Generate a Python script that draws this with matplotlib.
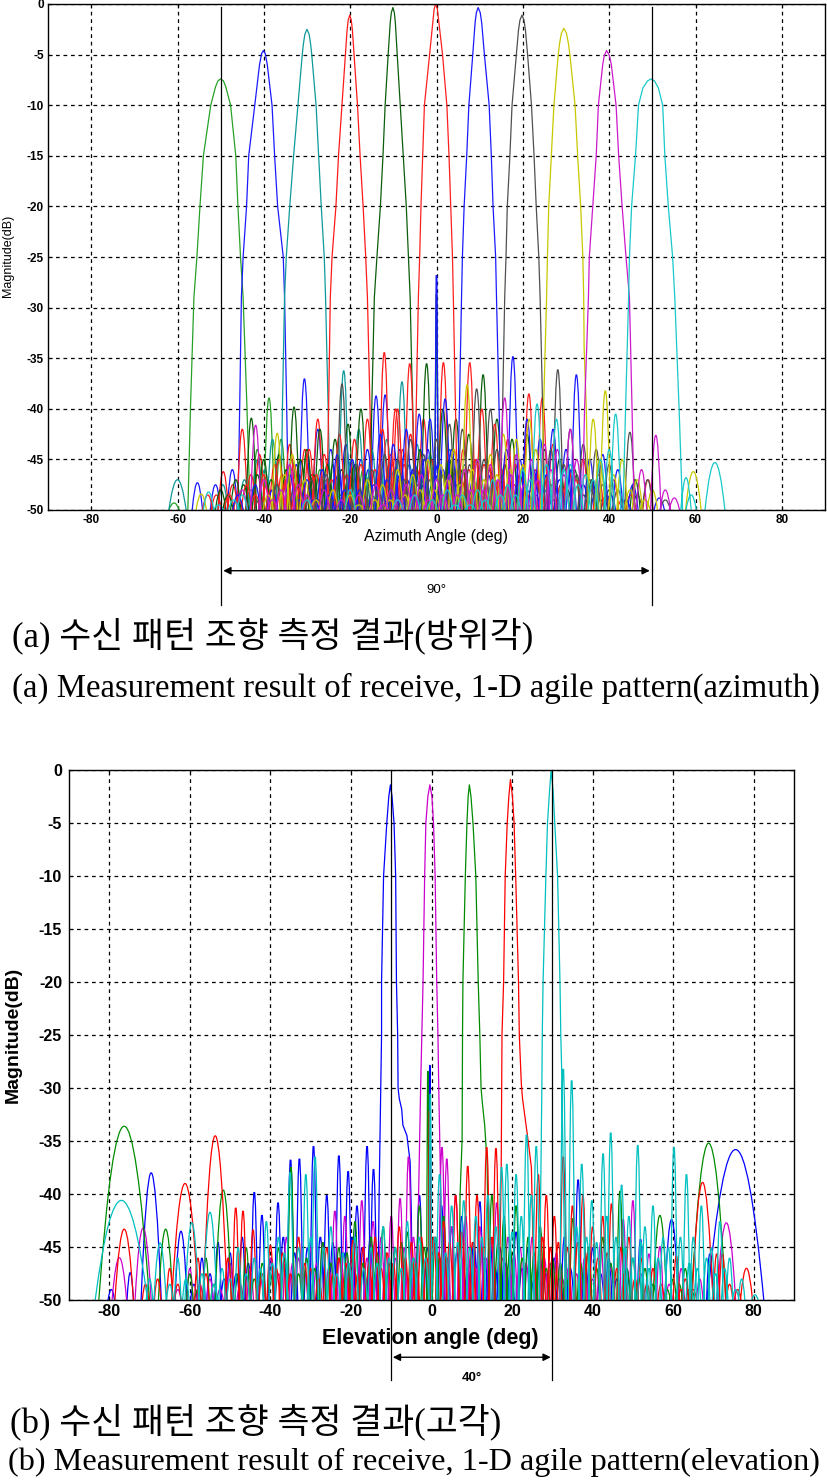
import matplotlib
matplotlib.use("Agg")
import matplotlib.pyplot as plt
from matplotlib.path import Path
from matplotlib.patches import PathPatch

plt.rcParams['font.family'] = ['Liberation Sans', 'DejaVu Sans']

FLOOR = -50.0

# ---------------- (a) azimuth: main lobes (angle, dB) ----------------
AZ_A_MAIN = [(-57.6, -50), (-57.0, -40), (-56.2, -29), (-55.5, -25), (-54.8, -20), (-54.0, -15), (-52.3, -10),
             (-51.2, -8.2), (-50.64, -7.6), (-50.0, -7.4), (-49.36, -7.6), (-48.8, -8.2), (-47.7, -10),
             (-46.5, -15), (-46.0, -20), (-45.4, -25), (-44.8, -29), (-43.9, -40), (-43.2, -50)]
AZ_B_MAIN = [(-46.0, -50), (-45.6, -40), (-45.2, -29), (-44.8, -25), (-44.0, -20), (-43.5, -15), (-42.1, -10),
             (-41.0, -6), (-40.52, -4.9), (-40.1, -4.6), (-39.68, -4.9), (-39.2, -6), (-38.1, -10), (-37.5, -15),
             (-36.8, -20), (-35.5, -25), (-35.2, -29), (-34.7, -40), (-34.3, -50)]
AZ_C_MAIN = [(-36.0, -50), (-35.7, -40), (-35.2, -29), (-34.8, -25), (-34.0, -20), (-33.1, -15), (-32.1, -10),
             (-31.1, -5), (-30.85, -4.0), (-30.5, -3.0), (-30.0, -2.5), (-29.5, -3.0), (-29.15, -4.0),
             (-28.9, -5), (-27.9, -10), (-27.3, -15), (-26.7, -20), (-26.0, -25), (-25.7, -29), (-25.1, -40),
             (-24.6, -50)]
AZ_D_MAIN = [(-25.4, -50), (-25.0, -40), (-24.6, -29), (-24.2, -25), (-23.3, -20), (-22.7, -15), (-21.9, -10),
             (-21.1, -5), (-20.72, -2.6), (-20.46, -1.6), (-20.1, -1.1), (-19.74, -1.6), (-19.48, -2.6),
             (-19.1, -5), (-18.3, -10), (-17.7, -15), (-17.0, -20), (-16.4, -25), (-16.0, -29), (-15.4, -40),
             (-14.9, -50)]
AZ_E_MAIN = [(-15.4, -50), (-15.0, -40), (-14.4, -29), (-13.8, -25), (-13.0, -20), (-12.4, -15), (-11.9, -10),
             (-11.2, -5), (-10.72, -1.85), (-10.46, -0.85), (-10.1, -0.35), (-9.77, -0.85), (-9.53, -1.85),
             (-9.1, -5), (-8.4, -10), (-7.7, -15), (-7.0, -20), (-6.5, -25), (-6.1, -29), (-5.8, -35),
             (-5.5, -40), (-5.0, -50)]
AZ_F_MAIN = [(-5.2, -50), (-4.7, -40), (-4.2, -29), (-3.9, -25), (-3.6, -20), (-3.2, -15), (-2.8, -10),
             (-1.6, -5), (-0.9, -2), (-0.55, -0.5), (-0.2, 0), (0.2, -0.5), (0.6, -2), (1.4, -5), (2.4, -10),
             (2.9, -15), (3.3, -20), (3.7, -25), (3.9, -29), (4.4, -40), (4.9, -50)]
AZ_G_MAIN = [(4.8, -50), (5.3, -40), (5.8, -29), (6.0, -25), (6.4, -20), (7.0, -15), (7.5, -10), (8.4, -5),
             (8.94, -1.85), (9.24, -0.85), (9.65, -0.35), (10.13, -0.85), (10.47, -1.85), (11.1, -5),
             (12.2, -10), (12.7, -15), (13.1, -20), (13.7, -25), (13.9, -29), (14.5, -40), (15.0, -50)]
AZ_H_MAIN = [(14.8, -50), (15.3, -40), (15.8, -29), (16.1, -25), (16.4, -20), (17.0, -15), (17.5, -10),
             (18.5, -5), (18.99, -2.6), (19.33, -1.6), (19.8, -1.1), (20.27, -1.6), (20.61, -2.6), (21.1, -5),
             (22.0, -10), (22.6, -15), (23.1, -20), (23.7, -25), (24.0, -29), (24.6, -40), (25.1, -50)]
AZ_I_MAIN = [(24.3, -50), (24.8, -40), (25.5, -29), (25.7, -25), (26.0, -20), (26.6, -15), (27.2, -10),
             (28.2, -5), (28.51, -3.9), (28.93, -2.9), (29.5, -2.4), (30.11, -2.9), (30.56, -3.9), (30.9, -5),
             (32.1, -10), (32.7, -15), (33.4, -20), (33.9, -25), (34.1, -29), (34.2, -34), (34.7, -40),
             (35.2, -50)]
AZ_J_MAIN = [(33.8, -50), (34.3, -40), (35.2, -29), (35.4, -25), (36.2, -20), (37.0, -15), (37.5, -10),
             (38.5, -6), (38.86, -5.1), (39.4, -4.6), (40.06, -5.1), (40.5, -6), (41.6, -10), (42.2, -15),
             (43.0, -20), (43.9, -25), (44.7, -29), (45.3, -40), (45.8, -50)]
AZ_K_MAIN = [(43.2, -50), (43.8, -40), (44.5, -29), (44.7, -25), (45.2, -20), (46.1, -15), (46.8, -10),
             (47.8, -8.3), (48.9, -7.6), (49.7, -7.4), (50.5, -7.6), (51.4, -8.3), (52.4, -10), (52.9, -15),
             (53.7, -20), (54.7, -25), (55.2, -29), (56.2, -40), (57.0, -50)]

# ---------------- (a) azimuth: side lobe peaks (angle, dB) ----------------
AZ_A_SIDE = [(-41.5, -44.0), (-38.8, -38.9), (-36.0, -43.0), (-33.5, -45.0), (-30.0, -44.5), (-27.0, -46.0),
             (-24.0, -45.5), (-20.5, -47.0), (-17.0, -46.0), (-13.0, -47.5), (-9.0, -47.0), (-5.0, -48.0),
             (-1.0, -47.5), (3.0, -48.5), (7.0, -48.0), (12.0, -49.0), (17.0, -48.5), (-60.8, -49.3),
             (-34.8, -47.5), (-31.8, -46.5), (-28.5, -48.0), (-25.5, -47.0), (-22.3, -48.5), (-18.8, -47.5),
             (-15.0, -48.5), (-11.0, -47.5), (-7.0, -49.0), (-3.0, -48.5), (1.0, -49.0), (5.0, -48.5),
             (9.5, -49.5), (14.5, -49.0)]
AZ_B_SIDE = [(-47.3, -46.0), (-51.2, -47.5), (-55.4, -47.3), (-30.6, -37.0), (-27.5, -42.0), (-24.5, -44.0),
             (-21.0, -43.5), (-17.5, -45.0), (-14.0, -38.7), (-11.9, -38.6), (-8.5, -44.0), (-5.0, -45.5),
             (-2.0, -44.0), (1.5, -46.0), (5.0, -45.0), (8.5, -47.0), (12.0, -46.5), (15.5, -47.5),
             (19.0, -48.0), (23.0, -48.5), (27.0, -49.0), (-32.5, -45.5), (-29.0, -46.5), (-26.0, -47.5),
             (-22.8, -46.5), (-19.3, -47.0), (-15.8, -46.0), (-10.2, -45.5), (-6.8, -47.0), (-3.5, -47.5),
             (-0.3, -46.5), (3.3, -47.5), (6.8, -48.0), (10.2, -48.5), (13.8, -49.0), (17.2, -49.0),
             (21.0, -49.5)]
AZ_C_SIDE = [(-38.0, -43.0), (-41.5, -45.0), (-44.5, -47.0), (-49.5, -47.5), (-21.5, -36.2), (-18.0, -42.0),
             (-15.0, -44.0), (-11.5, -43.0), (-8.0, -37.3), (-4.5, -43.5), (-1.5, -44.5), (3.0, -44.0),
             (6.5, -45.5), (10.0, -46.0), (13.5, -47.0), (17.0, -46.5), (21.0, -48.0), (25.0, -48.0),
             (-39.8, -46.0), (-36.9, -47.5), (-43.0, -48.0), (-19.8, -45.0), (-16.5, -46.5), (-13.2, -45.5),
             (-9.8, -46.0), (-6.3, -45.5), (-3.0, -47.0), (1.2, -46.5), (4.8, -47.5), (8.3, -48.0),
             (11.8, -48.5), (15.3, -48.5), (19.0, -49.0)]
AZ_D_SIDE = [(-27.5, -41.0), (-30.5, -44.0), (-34.0, -43.5), (-37.5, -45.5), (-41.0, -44.5), (-45.0, -42.0),
             (-49.4, -46.2), (-53.0, -48.5), (-12.1, -34.4), (-9.0, -40.0), (-6.0, -42.5), (-3.0, -41.0),
             (1.6, -35.4), (4.0, -44.0), (7.5, -46.0), (11.0, -45.5), (14.5, -47.0), (18.0, -47.5),
             (22.0, -48.0), (26.0, -49.0), (-29.0, -46.5), (-32.3, -47.0), (-35.8, -46.5), (-39.3, -47.5),
             (-43.0, -46.5), (-47.2, -47.5), (-51.0, -48.5), (-10.6, -44.5), (-7.5, -45.5), (-4.5, -46.0),
             (-1.2, -45.0), (2.8, -46.5), (5.8, -47.0), (9.3, -48.0), (12.8, -47.5), (16.3, -48.5),
             (20.0, -49.0), (24.0, -49.5)]
AZ_E_SIDE = [(-17.5, -40.0), (-20.5, -41.5), (-23.5, -43.0), (-27.0, -42.0), (-30.0, -44.0), (-33.0, -39.8),
             (-36.5, -44.5), (-40.0, -45.0), (-42.9, -40.9), (-46.5, -47.0), (-50.0, -48.0), (-2.3, -35.5),
             (1.5, -40.0), (4.5, -41.0), (7.5, -42.5), (10.8, -36.6), (14.0, -41.0), (17.5, -43.0),
             (21.0, -42.5), (25.0, -44.0), (28.5, -45.0), (32.0, -46.0), (36.0, -47.0), (40.0, -48.0),
             (46.0, -47.0), (-19.0, -45.5), (-22.0, -46.0), (-25.3, -45.5), (-28.5, -46.5), (-31.5, -45.0),
             (-34.8, -46.0), (-38.3, -47.0), (-41.5, -46.5), (-44.7, -47.5), (-48.3, -48.5), (-3.8, -44.0),
             (3.0, -45.0), (6.0, -46.0), (9.2, -45.0), (12.4, -46.0), (15.8, -45.5), (19.3, -46.5),
             (23.0, -47.0), (26.8, -47.5), (30.3, -48.0), (34.0, -48.5), (38.0, -49.0)]
AZ_F_SIDE = [(-6.2, -35.5), (-9.5, -40.0), (-12.5, -42.0), (-16.0, -41.0), (-19.0, -43.0), (-22.5, -42.5),
             (-26.0, -44.5), (-29.5, -44.0), (-33.0, -45.5), (-36.5, -45.0), (-40.0, -46.5), (-44.0, -47.5),
             (-48.0, -48.5), (7.7, -35.4), (10.5, -40.0), (13.5, -41.5), (16.5, -43.0), (21.4, -38.5),
             (24.5, -38.9), (27.0, -43.5), (30.5, -45.5), (34.0, -45.0), (37.5, -46.5), (41.0, -47.0),
             (45.0, -48.5), (49.0, -47.0), (-7.8, -44.0), (-11.0, -45.5), (-14.3, -46.0), (-17.5, -45.5),
             (-20.8, -46.5), (-24.3, -47.0), (-27.8, -46.5), (-31.3, -47.5), (-34.8, -47.0), (-38.3, -48.0),
             (-42.0, -48.5), (-46.0, -49.0), (6.2, -44.0), (9.0, -45.0), (12.0, -45.5), (15.0, -46.0),
             (18.3, -45.5), (19.8, -47.0), (23.0, -46.0), (25.8, -46.5), (28.8, -47.5), (32.3, -47.0),
             (35.8, -48.0), (39.3, -48.5), (43.0, -49.0)]
AZ_G_SIDE = [(17.7, -34.8), (21.0, -41.0), (24.0, -43.0), (27.0, -42.0), (30.0, -44.0), (32.4, -36.6),
             (35.5, -45.0), (38.5, -44.5), (42.0, -46.0), (45.5, -47.5), (51.6, -48.8), (2.0, -39.0),
             (-1.5, -41.0), (-4.0, -40.5), (-7.0, -42.0), (-10.0, -43.5), (-13.0, -42.5), (-16.0, -44.0),
             (-19.5, -45.0), (-23.0, -44.5), (-26.5, -46.0), (-30.0, -47.0), (-34.0, -46.5), (-38.0, -48.0),
             (-42.0, -47.5), (-46.0, -48.5), (16.2, -44.0), (19.3, -45.0), (22.5, -46.0), (25.5, -46.5),
             (28.5, -47.0), (31.2, -46.0), (34.0, -47.5), (37.0, -48.0), (40.3, -48.5), (43.8, -49.0),
             (3.5, -44.0), (0.3, -45.5), (-2.8, -45.0), (-5.5, -46.0), (-8.5, -46.5), (-11.5, -47.0),
             (-14.5, -47.5), (-17.8, -48.0), (-21.3, -48.0), (-24.8, -48.5), (-28.3, -49.0), (-32.0, -49.0)]
AZ_H_SIDE = [(28.1, -36.1), (31.0, -42.0), (34.0, -43.5), (37.0, -44.0), (40.0, -45.5), (44.8, -42.3),
             (48.9, -47.0), (53.0, -49.0), (12.5, -40.0), (9.3, -38.0), (6.0, -42.0), (3.0, -41.5), (0.0, -43.0),
             (-3.0, -44.5), (-6.0, -43.0), (-9.0, -45.0), (-12.0, -44.5), (-15.0, -46.0), (-18.5, -45.5),
             (-21.9, -37.5), (-25.5, -46.5), (-29.0, -47.0), (-33.0, -48.0), (-37.0, -47.5), (-41.0, -49.0),
             (26.5, -44.0), (29.5, -45.5), (32.5, -46.5), (35.5, -47.0), (38.5, -47.5), (42.0, -48.0),
             (46.5, -48.5), (14.0, -44.0), (11.0, -45.0), (7.7, -45.5), (4.5, -46.0), (1.5, -46.5),
             (-1.5, -47.0), (-4.5, -47.5), (-7.5, -47.0), (-10.5, -48.0), (-13.5, -48.0), (-16.8, -48.5),
             (-20.2, -48.5), (-23.7, -49.0), (-27.3, -49.0)]
AZ_I_SIDE = [(36.3, -41.0), (39.1, -38.2), (43.0, -45.0), (46.5, -47.0), (50.0, -48.0), (21.5, -41.0),
             (18.5, -43.0), (15.5, -42.5), (12.5, -44.5), (9.5, -45.0), (7.1, -37.6), (4.0, -44.0), (1.0, -45.5),
             (-2.0, -45.0), (-5.5, -46.5), (-9.0, -46.0), (-12.5, -47.5), (-16.0, -47.0), (-20.0, -48.5),
             (-24.0, -48.0), (-28.0, -49.0), (-33.4, -44.5), (-36.9, -42.4), (-54.5, -48.4), (37.8, -45.0),
             (41.0, -46.5), (44.8, -48.0), (48.3, -49.0), (23.0, -44.0), (20.0, -45.5), (17.0, -46.0),
             (14.0, -46.5), (11.0, -47.0), (8.3, -46.0), (5.5, -47.5), (2.5, -47.0), (-0.5, -48.0),
             (-3.8, -48.0), (-7.3, -48.5), (-10.8, -49.0), (-14.3, -49.0), (-18.0, -49.5), (-30.5, -47.0),
             (-35.2, -46.5), (-39.0, -48.5)]
AZ_J_SIDE = [(50.8, -42.6), (55.1, -48.8), (31.0, -42.0), (28.0, -44.0), (25.0, -43.5), (22.0, -45.0),
             (18.5, -44.5), (15.8, -38.9), (12.5, -45.5), (9.5, -45.0), (6.5, -46.0), (3.0, -46.5), (0.0, -47.0),
             (-3.5, -46.5), (-7.0, -47.5), (-10.5, -48.0), (-14.0, -47.5), (-18.0, -48.5), (-22.0, -49.0),
             (-26.0, -48.0), (-30.0, -48.5), (-34.0, -45.5), (-38.0, -49.0), (-41.9, -41.6), (-45.0, -48.0),
             (47.5, -46.0), (53.0, -48.0), (32.5, -45.0), (29.5, -46.5), (26.5, -46.0), (23.5, -47.0),
             (20.3, -47.5), (17.2, -46.5), (14.2, -47.0), (11.0, -48.0), (8.0, -48.0), (4.8, -48.5),
             (1.5, -48.5), (-1.8, -49.0), (-5.3, -48.5), (-8.8, -49.0), (-12.3, -49.5), (-32.0, -47.5),
             (-36.0, -48.0), (-40.0, -47.0)]
AZ_K_SIDE = [(41.5, -40.5), (38.0, -45.0), (34.5, -46.5), (31.0, -45.5), (27.8, -41.0), (23.3, -39.5),
             (20.0, -46.0), (16.5, -47.5), (13.0, -47.0), (9.5, -48.0), (6.0, -48.5), (2.5, -48.0), (-1.0, -49.0),
             (-5.0, -48.5), (-9.0, -49.0), (-20.0, -48.0), (-30.0, -49.0), (-45.0, -48.5), (-52.8, -48.2),
             (57.8, -46.8), (40.0, -44.0), (36.3, -47.0), (32.8, -47.5), (29.5, -46.0), (25.5, -45.5),
             (21.7, -47.0), (18.3, -48.5), (14.8, -48.5), (11.3, -49.0), (7.8, -49.5), (4.3, -49.5),
             (-47.0, -49.0), (-50.5, -49.5), (59.0, -48.5)]

# wide outer lobes and narrow spikes: (beam, angle, dB, half width)
AZ_EXTRA = [('C', -60.0, -47.0, 2.0), ('K', 64.5, -45.3, 2.3), ('I', 59.5, -46.2, 1.8),
            ('G', 0.0, -25.3, 0.35), ('E', 0.0, -27.3, 0.35), ('C', 0.0, -31.0, 0.35)]

AZ_COLORS = {'A': '#27a127', 'B': '#1a1aff', 'C': '#0f9a9a', 'D': '#ff1a1a', 'E': '#0b5e0b', 'F': '#ff2020',
             'G': '#1a1aff', 'H': '#505050', 'I': '#c8c800', 'J': '#cc19cc', 'K': '#19c8c8'}
AZ_BEAMS = {'A': (AZ_A_MAIN, AZ_A_SIDE), 'B': (AZ_B_MAIN, AZ_B_SIDE), 'C': (AZ_C_MAIN, AZ_C_SIDE),
            'D': (AZ_D_MAIN, AZ_D_SIDE), 'E': (AZ_E_MAIN, AZ_E_SIDE), 'F': (AZ_F_MAIN, AZ_F_SIDE),
            'G': (AZ_G_MAIN, AZ_G_SIDE), 'H': (AZ_H_MAIN, AZ_H_SIDE), 'I': (AZ_I_MAIN, AZ_I_SIDE),
            'J': (AZ_J_MAIN, AZ_J_SIDE), 'K': (AZ_K_MAIN, AZ_K_SIDE)}

# ---------------- (b) elevation: main lobes ----------------
EL_B_MAIN = [(-13.3, -50), (-13.0, -40), (-12.6, -30), (-12.4, -25), (-12.4, -20), (-11.9, -10), (-11.1, -5),
             (-10.6, -2.5), (-10.2, -1.4), (-9.8, -2.5), (-9.3, -5), (-8.9, -10), (-8.7, -20), (-8.4, -25),
             (-8.3, -30), (-8.0, -31), (-7.4, -32), (-7.1, -33.5), (-6.1, -34.5), (-5.3, -37), (-5.0, -42),
             (-4.8, -50)]
EL_M_MAIN = [(-3.5, -50), (-3.2, -40), (-2.7, -30), (-2.4, -25), (-2.1, -20), (-1.7, -10), (-1.4, -5),
             (-0.9, -2.5), (-0.4, -1.4), (0.1, -2.5), (0.5, -5), (0.9, -10), (1.3, -20), (1.6, -25), (1.8, -30),
             (2.0, -34), (2.8, -50)]
EL_G_MAIN = [(6.8, -50), (7.1, -40), (7.6, -34.9), (7.7, -25), (7.8, -20), (8.4, -10), (8.8, -5), (9.1, -2.5),
             (9.4, -1.4), (9.8, -2.5), (10.3, -5), (11.0, -10), (11.6, -20), (12.0, -25), (12.3, -30),
             (12.6, -31.3), (13.2, -33.5), (13.8, -37), (14.3, -50)]
EL_R_MAIN = [(16.8, -50), (17.3, -38), (17.5, -25), (17.9, -20), (18.3, -10), (18.8, -5), (19.2, -2.5),
             (19.6, -0.9), (20.1, -2.5), (20.5, -5), (20.9, -10), (21.6, -20), (21.8, -25), (22.3, -29.6),
             (22.6, -31), (23.3, -33), (24.0, -35), (24.8, -37.5), (25.5, -50)]
EL_C_MAIN = [(26.8, -50), (27.1, -40), (27.4, -30), (27.5, -25), (27.7, -20), (28.4, -10), (28.8, -5),
             (29.3, -2), (29.7, 0), (30.2, -2), (30.6, -5), (31.3, -10), (31.9, -20), (32.1, -25), (32.3, -28),
             (32.8, -40), (33.2, -50)]

# ---------------- (b) elevation: side lobe peaks ----------------
EL_B_SIDE = [(-16.0, -35.3), (-14.4, -37.5), (-18.5, -41.0), (-20.7, -37.7), (-23.0, -36.2), (-26.0, -40.0),
             (-29.3, -35.3), (-32.8, -36.5), (-35.0, -36.6), (-38.1, -40.7), (-42.1, -41.9), (-44.0, -39.7),
             (-47.0, -44.0), (-50.0, -45.5), (-53.0, -44.5), (-57.0, -46.0), (-74.8, -47.4), (-3.0, -40.0),
             (2.5, -41.0), (5.0, -43.0), (7.5, -42.0), (12.0, -40.6), (14.5, -44.0), (17.0, -45.0),
             (21.0, -43.5), (24.0, -45.0), (27.0, -46.0), (33.0, -44.0), (36.4, -38.5), (40.0, -45.0),
             (44.0, -46.0), (51.9, -44.2), (69.1, -45.6), (-1.0, -45.0), (0.8, -44.0), (3.8, -46.0),
             (6.3, -45.5), (9.0, -47.0), (10.5, -44.5), (13.2, -46.0), (15.8, -47.0), (18.5, -46.5),
             (19.8, -48.0), (22.5, -47.0), (25.5, -48.0), (28.5, -47.5), (30.5, -46.0), (31.8, -48.0),
             (34.5, -47.0), (38.2, -46.5), (42.0, -47.5), (46.0, -48.0), (48.5, -47.0), (-15.2, -44.0),
             (-17.3, -45.0), (-19.6, -44.0), (-21.8, -45.5), (-24.5, -44.5), (-27.6, -44.0), (-30.8, -45.0),
             (-34.0, -45.5), (-36.8, -44.0), (-39.8, -46.0), (-45.5, -46.5), (-48.5, -47.5), (-51.5, -48.0),
             (-55.0, -47.5), (-59.0, -48.5), (-79.5, -49.0)]
EL_M_SIDE = [(-5.7, -36.3), (-7.8, -40.3), (-10.0, -42.0), (-12.5, -44.0), (-14.5, -42.5), (-17.3, -40.5),
             (-21.5, -42.0), (-24.0, -41.5), (-27.0, -44.5), (-30.0, -45.0), (-33.0, -46.0), (-36.0, -44.0),
             (-40.0, -46.0), (-45.0, -47.0), (-50.0, -46.5), (-55.0, -48.0), (-60.0, -47.0), (2.6, -35.4),
             (3.8, -36.5), (6.0, -40.0), (8.5, -42.0), (12.0, -43.0), (16.2, -40.7), (19.0, -44.0),
             (22.0, -45.0), (25.0, -44.0), (28.0, -46.0), (31.0, -45.5), (34.0, -47.0), (38.0, -46.0),
             (42.0, -44.5), (47.6, -42.3), (50.0, -40.5), (54.0, -45.6), (56.7, -44.9), (62.0, -47.0),
             (66.6, -48.0), (-4.5, -44.0), (-6.8, -45.0), (-9.0, -46.0), (-11.3, -45.5), (-13.5, -47.0),
             (-16.0, -46.0), (-18.8, -44.5), (-20.2, -47.0), (-22.8, -46.0), (-25.5, -47.0), (-28.5, -46.5),
             (-31.5, -47.5), (-34.5, -46.5), (-38.0, -47.5), (-42.5, -48.0), (-47.5, -48.5), (-52.5, -49.0),
             (-57.5, -48.5), (-63.0, -49.0), (4.9, -43.0), (7.2, -44.5), (9.8, -45.5), (11.0, -47.0),
             (13.5, -46.0), (14.8, -44.5), (17.6, -46.0), (20.5, -45.5), (23.5, -46.5), (26.5, -47.0),
             (29.5, -46.5), (32.5, -48.0), (36.0, -47.5), (40.0, -48.0), (44.5, -47.0), (52.0, -47.5),
             (59.0, -48.5), (64.0, -49.0)]
EL_G_SIDE = [(3.0, -42.0), (-3.0, -41.0), (-6.0, -43.5), (-9.0, -45.0), (-12.0, -43.0), (-15.0, -44.0),
             (-19.0, -42.5), (-23.0, -45.0), (-27.0, -44.5), (-31.0, -46.0), (-34.9, -37.3), (-38.0, -45.0),
             (-42.0, -46.5), (-46.0, -45.0), (-56.0, -46.0), (-60.0, -47.5), (15.0, -40.0), (18.0, -42.0),
             (21.0, -41.0), (24.0, -44.0), (27.0, -43.0), (30.0, -46.0), (35.1, -42.2), (39.0, -45.0),
             (42.5, -44.0), (46.8, -39.6), (50.0, -46.0), (53.0, -47.0), (60.0, -48.0), (63.0, -47.0),
             (1.0, -44.0), (2.0, -46.0), (-1.8, -45.0), (-4.5, -46.0), (-7.5, -44.5), (-10.5, -46.5),
             (-13.5, -45.5), (-17.0, -46.5), (-21.0, -45.5), (-25.0, -46.5), (-29.0, -47.0), (-33.0, -47.5),
             (-36.5, -46.0), (-40.0, -47.5), (-44.0, -48.0), (-48.0, -47.5), (-54.0, -48.5), (-58.0, -49.0),
             (16.5, -44.5), (19.5, -45.0), (22.5, -46.0), (25.5, -45.5), (28.5, -47.0), (32.0, -46.5),
             (33.5, -48.0), (37.0, -46.5), (41.0, -47.0), (44.5, -46.5), (48.5, -47.0), (51.5, -48.0),
             (55.0, -48.5), (58.5, -49.0), (61.5, -48.5), (64.5, -49.0)]
EL_R_SIDE = [(16.0, -35.5), (13.7, -35.4), (11.3, -40.0), (9.0, -37.2), (6.0, -40.0), (3.0, -42.5),
             (0.5, -44.0), (-5.0, -44.5), (-8.0, -43.0), (-11.0, -45.5), (-14.0, -44.0), (-17.0, -45.0),
             (-19.5, -44.3), (-23.0, -46.0), (-26.0, -45.0), (-30.0, -47.0), (-33.0, -44.0), (-37.0, -45.5),
             (-40.0, -44.8), (-44.3, -43.3), (-46.8, -41.5), (-48.6, -41.2), (-50.5, -46.0), (-58.0, -46.0),
             (-65.0, -47.0), (-68.0, -48.0), (26.5, -38.0), (28.5, -40.0), (30.5, -42.0), (32.7, -36.3),
             (35.0, -41.0), (37.6, -40.0), (40.0, -43.0), (42.5, -42.0), (44.7, -40.8), (47.0, -45.0),
             (49.0, -44.0), (52.0, -46.0), (55.0, -47.0), (60.8, -45.8), (63.0, -48.0), (70.8, -45.6),
             (72.2, -45.6), (15.0, -44.0), (12.5, -45.0), (10.2, -44.5), (7.5, -43.5), (4.5, -44.5),
             (1.8, -45.5), (-1.2, -46.0), (-2.5, -44.0), (-3.8, -46.5), (-6.5, -46.0), (-9.5, -46.5),
             (-12.5, -47.0), (-15.5, -46.5), (-18.3, -47.5), (-21.3, -46.5), (-24.5, -47.5), (-28.0, -48.0),
             (-31.5, -46.5), (-35.0, -47.5), (-38.5, -47.0), (-42.0, -47.5), (-56.0, -47.5), (-63.0, -48.5),
             (-71.0, -48.5), (27.5, -44.0), (29.5, -45.0), (31.5, -44.5), (33.8, -45.0), (36.3, -44.5),
             (38.8, -45.5), (41.3, -46.0), (43.6, -45.5), (46.0, -47.0), (48.0, -47.5), (50.5, -48.0),
             (53.5, -48.5), (57.0, -48.5), (62.0, -49.0), (65.0, -49.0), (74.0, -48.5), (76.0, -49.0)]
EL_C_SIDE = [(26.0, -35.3), (23.6, -34.2), (21.0, -38.0), (18.7, -37.0), (17.4, -37.3), (14.0, -40.0),
             (11.0, -42.0), (8.0, -40.5), (5.0, -41.0), (2.0, -38.0), (-3.0, -44.0), (-6.0, -42.5),
             (-9.0, -45.0), (-12.0, -43.0), (-15.0, -45.0), (-19.0, -44.0), (-22.0, -45.5), (-25.0, -43.0),
             (-28.9, -36.3), (-31.2, -38.0), (-35.1, -37.8), (-38.0, -44.0), (-41.0, -42.5), (-44.0, -46.0),
             (-48.0, -45.0), (-52.0, -47.0), (-63.0, -46.0), (32.7, -27.9), (34.8, -29.0), (37.3, -37.0),
             (39.8, -40.5), (42.6, -36.0), (44.5, -34.0), (47.2, -39.0), (49.0, -42.0), (51.2, -35.2),
             (53.0, -43.0), (55.0, -41.0), (57.5, -44.0), (60.2, -35.4), (63.3, -38.0), (65.0, -44.0),
             (67.0, -41.0), (69.5, -45.0), (71.6, -42.5), (74.0, -46.0), (77.0, -48.0), (80.3, -49.5),
             (24.8, -40.0), (22.3, -42.0), (20.0, -43.5), (16.0, -43.0), (12.5, -44.0), (9.5, -45.0),
             (6.5, -44.5), (3.5, -45.5), (0.8, -44.0), (-1.5, -46.0), (-4.5, -46.0), (-7.5, -47.0),
             (-10.5, -46.0), (-13.5, -46.5), (-16.8, -47.0), (-20.5, -46.5), (-23.5, -47.5), (-26.8, -45.0),
             (-30.0, -44.0), (-33.0, -45.0), (-36.5, -45.5), (-39.5, -46.5), (-42.5, -47.0), (-46.0, -47.5),
             (-50.0, -48.0), (-54.0, -48.5), (-57.0, -47.5), (-61.0, -48.0), (-65.0, -48.5), (-70.0, -48.0),
             (36.0, -43.0), (38.5, -44.0), (41.0, -44.5), (43.5, -42.0), (45.8, -44.0), (48.0, -45.0),
             (50.0, -46.0), (52.0, -44.5), (54.0, -47.0), (56.3, -46.0), (58.8, -45.0), (61.8, -44.0),
             (64.0, -46.5), (66.0, -47.0), (68.3, -46.0), (70.5, -47.5), (72.8, -47.0), (75.5, -49.0)]

EL_EXTRA = [('G', -76.3, -33.6, 6.3), ('C', -77.0, -40.6, 6.5), ('B', -69.6, -38.0, 2.5),
            ('R', -76.3, -43.3, 2.3), ('M', -77.5, -46.0, 1.8), ('M', -71.6, -43.2, 2.0),
            ('R', -61.2, -39.0, 3.3), ('R', -53.7, -34.5, 3.0), ('G', -66.0, -43.3, 1.8),
            ('B', -62.2, -43.5, 1.5), ('G', -51.7, -39.6, 2.0), ('C', -55.0, -41.7, 1.7),
            ('C', -59.5, -42.7, 1.7), ('C', -67.4, -44.6, 1.5), ('B', 75.5, -35.8, 7.0),
            ('G', 68.8, -35.2, 4.3), ('R', 67.3, -38.9, 2.6), ('M', 73.2, -42.7, 2.3),
            ('R', 78.2, -47.0, 1.5), ('G', 56.7, -42.0, 1.7), ('B', 59.6, -42.4, 1.7),
            ('B', -0.4, -26.4, 0.3), ('G', -0.9, -27.0, 0.3), ('C', -0.3, -29.3, 0.3), ('R', -0.5, -31.0, 0.25)]

EL_COLORS = {'B': '#0000ff', 'M': '#cc00cc', 'G': '#008c00', 'R': '#ff0000', 'C': '#00c0c0'}
EL_BEAMS = {'B': (EL_B_MAIN, EL_B_SIDE), 'M': (EL_M_MAIN, EL_M_SIDE), 'G': (EL_G_MAIN, EL_G_SIDE),
            'R': (EL_R_MAIN, EL_R_SIDE), 'C': (EL_C_MAIN, EL_C_SIDE)}

X_TICKS = [-80, -60, -40, -20, 0, 20, 40, 60, 80]
Y_TICKS = [-50, -45, -40, -35, -30, -25, -20, -15, -10, -5, 0]


def beam_path(main, sides, hw, extra):
    verts = list(main)
    codes = [Path.MOVETO] + [Path.LINETO] * (len(main) - 1)
    lobes = [(c, p, hw) for c, p in sides] + list(extra)
    for c, p, w in lobes:
        # quadratic bezier hump from the floor up to the lobe peak
        verts += [(c - w, FLOOR), (c, 2 * p - FLOOR), (c + w, FLOOR)]
        codes += [Path.MOVETO, Path.CURVE3, Path.CURVE3]
    return Path(verts, codes)


def draw_beams(ax, beams, colors, extra, hw):
    for key, (main, sides) in beams.items():
        ex = [(c, p, w) for b, c, p, w in extra if b == key]
        patch = PathPatch(beam_path(main, sides, hw, ex), fill=False, edgecolor=colors[key],
                          lw=0.9, joinstyle='round', capstyle='round', zorder=2)
        ax.add_patch(patch)


def style_axes(ax, tick_size):
    ax.set_xlim(-90, 90)
    ax.set_ylim(-50, 0)
    ax.set_xticks(X_TICKS)
    ax.set_yticks(Y_TICKS)
    ax.set_xticklabels([str(t) for t in X_TICKS])
    ax.set_yticklabels([str(t) for t in Y_TICKS])
    ax.grid(True, color='black', linestyle=(0, (3, 3)), lw=0.9)
    ax.set_axisbelow(True)
    ax.tick_params(direction='in', length=3, width=0.8, labelsize=tick_size, top=True, right=True)
    for lab in ax.get_xticklabels() + ax.get_yticklabels():
        lab.set_fontweight('bold')
    for s in ax.spines.values():
        s.set_linewidth(1.0)
        s.set_zorder(5)


fig = plt.figure(figsize=(8.27, 14.8), dpi=100)

# ---------------- top: azimuth ----------------
ax1 = fig.add_axes([48 / 827, 1 - 510 / 1480, 777 / 827, 506 / 1480])
draw_beams(ax1, AZ_BEAMS, AZ_COLORS, AZ_EXTRA, 1.2)
style_axes(ax1, 8.5)
ax1.tick_params(axis='x', pad=3)
ax1.tick_params(axis='y', pad=3)
for xv in (-50, 50):
    ax1.plot([xv, xv], [-0.3, -59.4], color='black', lw=0.9, clip_on=False, zorder=6)
ax1.annotate('', xy=(-49.4, -56.0), xytext=(49.4, -56.0), xycoords='data',
             arrowprops=dict(arrowstyle='<|-|>', color='black', lw=1.0, mutation_scale=11,
                             shrinkA=0, shrinkB=0), annotation_clip=False)
ax1.text(0, -57.9, '90°', ha='center', va='center', fontsize=9.5, clip_on=False)
ax1.text(0, -52.6, 'Azimuth Angle (deg)', ha='center', va='center', fontsize=11.5, clip_on=False)
fig.text(8 / 827, 1 - 256 / 1480, 'Magnitude(dB)', rotation=90, ha='center', va='center', fontsize=9)

# ---------------- bottom: elevation ----------------
ax2 = fig.add_axes([69 / 827, 1 - 1300 / 1480, 725 / 827, 530 / 1480])
draw_beams(ax2, EL_BEAMS, EL_COLORS, EL_EXTRA, 0.8)
style_axes(ax2, 11.5)
ax2.tick_params(axis='x', pad=3)
ax2.tick_params(axis='y', pad=5)
for xv in (-10, 30):
    ax2.plot([xv, xv], [0, -57.5], color='black', lw=0.9, clip_on=False, zorder=6)
ax2.annotate('', xy=(-9.6, -55.4), xytext=(29.6, -55.4), xycoords='data',
             arrowprops=dict(arrowstyle='<|-|>', color='black', lw=1.0, mutation_scale=11,
                             shrinkA=0, shrinkB=0), annotation_clip=False)
ax2.text(10, -57.4, '40°', ha='center', va='center', fontsize=9.5, fontweight='bold', clip_on=False)
ax2.text(-0.4, -53.6, 'Elevation angle (deg)', ha='center', va='center', fontsize=15.5,
         fontweight='bold', clip_on=False)
fig.text(13 / 827, 1 - 1035 / 1480, 'Magnitude(dB)', rotation=90, ha='center', va='center',
         fontsize=14, fontweight='bold')

# ---------------- captions ----------------
cap_font = ['Liberation Serif', 'Noto Sans CJK KR']
fig.text(12 / 827, 1 - 636 / 1480, '(a) 수신 패턴 조향 측정 결과(방위각)', ha='left', va='center',
         fontsize=25, family=cap_font)
fig.text(12 / 827, 1 - 688 / 1480, '(a) Measurement result of receive, 1-D agile pattern(azimuth)',
         ha='left', va='center', fontsize=23.6, family=cap_font)
fig.text(10 / 827, 1 - 1422 / 1480, '(b) 수신 패턴 조향 측정 결과(고각)', ha='left', va='center',
         fontsize=25, family=cap_font)
fig.text(8 / 827, 1 - 1462 / 1480, '(b) Measurement result of receive, 1-D agile pattern(elevation)',
         ha='left', va='center', fontsize=23.2, family=cap_font)

fig.savefig('out.png', dpi=100)
